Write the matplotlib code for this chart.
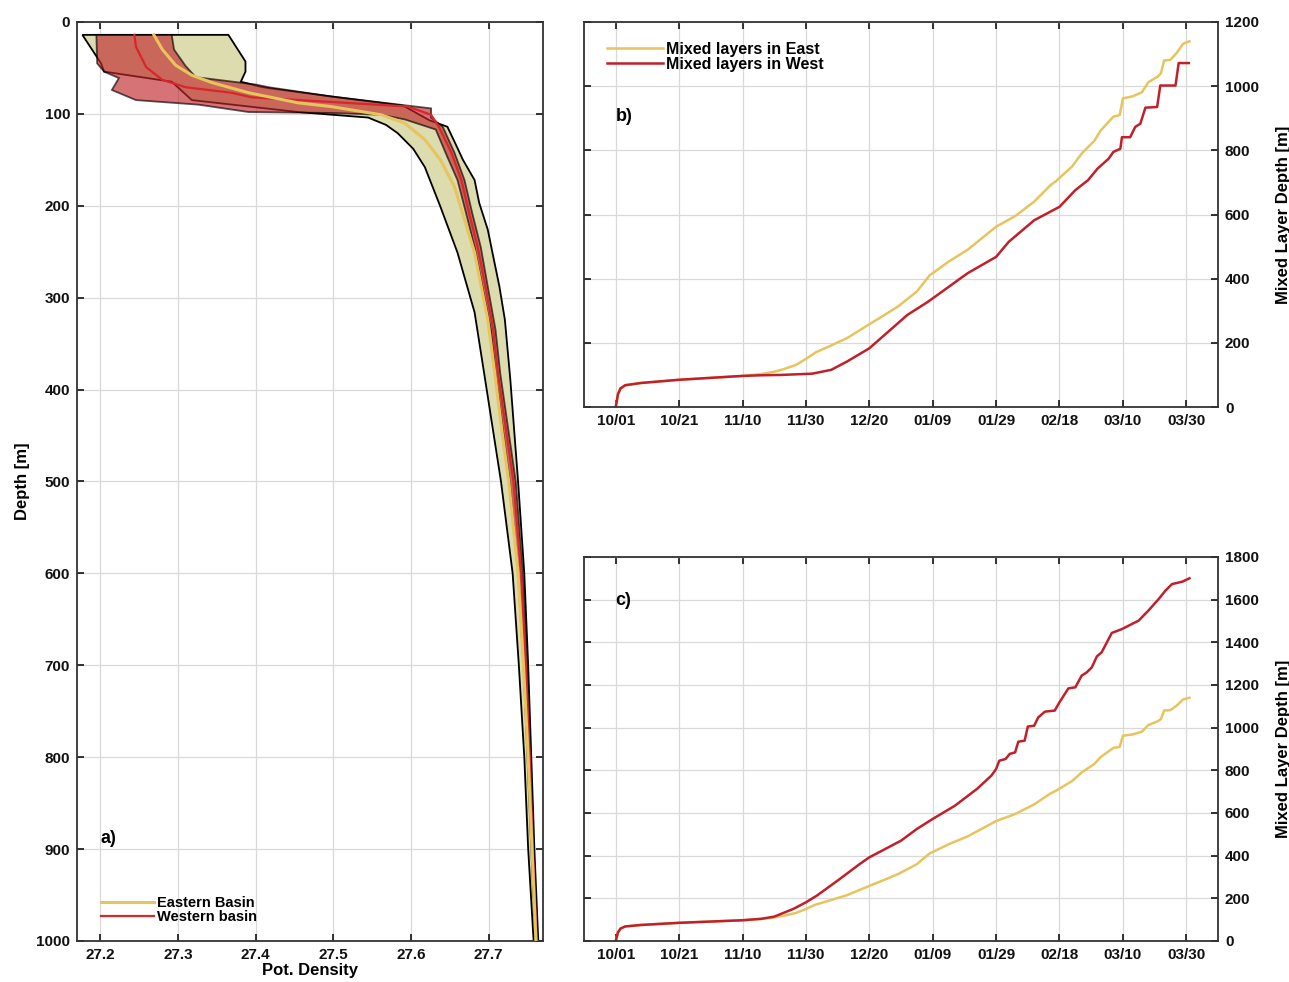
import numpy as np
import matplotlib
matplotlib.use("Agg")
import matplotlib.pyplot as plt

plt.rcParams['font.family'] = ['Liberation Sans', 'DejaVu Sans']
plt.rcParams['font.weight'] = 'bold'

# *** panel a: density profiles (depth in m, potential density) ***
east_mean_z = [14, 30, 47, 58, 66, 77, 88, 92, 101, 110, 128, 150, 179, 201, 251, 324, 382, 450, 500, 600, 700, 800, 900, 1000]
east_mean_s = [27.269, 27.280, 27.297, 27.318, 27.344, 27.391, 27.455, 27.497, 27.562, 27.592, 27.618, 27.638, 27.656,
               27.664, 27.682, 27.699, 27.708, 27.718, 27.726, 27.738, 27.745, 27.751, 27.756, 27.761]
east_min_z = [14, 45, 54, 65, 85, 98, 104, 112, 121, 138, 158, 201, 251, 316, 386, 500, 600, 700, 800, 900, 1000]
east_min_s = [27.177, 27.201, 27.205, 27.292, 27.318, 27.455, 27.545, 27.568, 27.583, 27.603, 27.618, 27.638, 27.660,
              27.682, 27.695, 27.716, 27.731, 27.739, 27.746, 27.751, 27.758]
east_max_z = [14, 43, 54, 65, 70, 72, 81, 91, 107, 114, 130, 150, 172, 197, 226, 251, 288, 324, 389, 500, 600, 700, 800, 900, 1000]
east_max_s = [27.365, 27.387, 27.387, 27.381, 27.404, 27.417, 27.497, 27.590, 27.624, 27.647, 27.656, 27.667, 27.682,
              27.688, 27.699, 27.705, 27.714, 27.721, 27.728, 27.738, 27.746, 27.751, 27.755, 27.759, 27.764]

west_mean_z = [14, 27, 49, 63, 71, 77, 82, 87, 92, 101, 114, 142, 172, 208, 245, 288, 335, 382, 500, 600, 700, 800, 900, 1000]
west_mean_s = [27.244, 27.246, 27.259, 27.280, 27.310, 27.369, 27.395, 27.497, 27.596, 27.626, 27.636, 27.652, 27.665,
               27.675, 27.686, 27.696, 27.706, 27.712, 27.732, 27.742, 27.748, 27.753, 27.757, 27.762]
west_min_z = [14, 45, 54, 61, 74, 85, 90, 98, 99, 101, 106, 117, 147, 172, 208, 245, 288, 335, 382, 500, 600, 700, 800, 900, 1000]
west_min_s = [27.195, 27.196, 27.205, 27.224, 27.215, 27.246, 27.327, 27.391, 27.497, 27.562, 27.592, 27.632, 27.647,
              27.660, 27.671, 27.682, 27.692, 27.703, 27.709, 27.727, 27.738, 27.745, 27.750, 27.755, 27.760]
west_max_z = [14, 30, 48, 60, 68, 71, 81, 91, 94, 104, 114, 142, 172, 208, 245, 288, 335, 382, 500, 600, 700, 800, 900, 1000]
west_max_s = [27.292, 27.295, 27.310, 27.323, 27.400, 27.417, 27.497, 27.596, 27.626, 27.626, 27.641, 27.656, 27.669,
              27.679, 27.690, 27.699, 27.709, 27.715, 27.735, 27.744, 27.750, 27.754, 27.758, 27.762]

# *** panels b, c: mixed layer depth, days since 10/01 ***
east_day = [0, 0.7, 1.5, 3, 8, 20, 30, 40, 46, 50, 53, 57, 60, 63, 68, 73, 80, 84, 89, 95, 97, 99, 105, 111, 120, 126,
            132, 137, 139, 144, 147, 151, 153, 157, 159, 160, 163, 166, 168, 171, 172, 173, 175, 177, 179, 181]
east_mld = [0, 40, 58, 68, 75, 85, 91, 97, 103, 110, 118, 132, 150, 170, 192, 215, 258, 282, 313, 360, 385, 410, 453, 490,
            562, 595, 640, 690, 705, 750, 790, 830, 862, 905, 910, 962, 968, 981, 1012, 1030, 1040, 1080, 1082, 1104, 1132, 1140]

westb_day = [0, 0.7, 1.5, 3, 8, 20, 30, 40, 46, 52, 62, 68, 73, 80, 86, 92, 98.5, 103, 111, 120, 124, 132, 140, 145, 149,
             152, 155.5, 157, 159.2, 159.7, 162.3, 163.9, 165.5, 167.1, 170.8, 171.8, 176.6, 177.6, 180.8]
westb_mld = [0, 40, 58, 68, 75, 85, 91, 97, 99, 100, 104, 116, 142, 183, 235, 287, 328, 360, 417, 468, 515, 582, 624, 676,
             707, 743, 774, 795, 805, 841, 841, 873, 883, 933, 935, 1002, 1002, 1072, 1072]

westc_day = [0, 0.7, 1.5, 3, 8, 20, 30, 40, 46, 50, 56, 60, 63.5, 70, 77, 80, 90, 95, 100, 107, 114, 118.5, 120, 121, 123,
             124.3, 126, 127, 129, 130, 132, 133.3, 135.4, 138.5, 140, 142.8, 145, 147, 148.6, 150.2, 151.8, 153.3, 156.5,
             159.7, 161.8, 165, 168, 171.3, 173.4, 175.5, 178.7, 181]
westc_mld = [0, 40, 58, 68, 75, 85, 91, 97, 104, 114, 150, 181, 213, 283, 361, 392, 470, 525, 572, 634, 713, 775, 806, 845,
             853, 877, 884, 934, 939, 1005, 1009, 1048, 1075, 1080, 1119, 1184, 1189, 1244, 1259, 1283, 1334, 1353, 1444,
             1462, 1478, 1502, 1548, 1603, 1642, 1673, 1684, 1700]

date_ticks = [0, 20, 40, 60, 80, 100, 120, 140, 160, 180]
date_labels = ['10/01', '10/21', '11/10', '11/30', '12/20', '01/09', '01/29', '02/18', '03/10', '03/30']

yellow = '#e6c45e'
red = '#c0202a'
khaki = '#dcdcae'
spine_col = '#333333'


def style_axes(ax):
    ax.grid(True, color='#d9d9d9', lw=0.9)
    ax.set_axisbelow(True)
    ax.tick_params(direction='in', length=5, width=1.2, top=True, right=True,
                   labelsize=11, colors='#111111', pad=5)
    for sp in ax.spines.values():
        sp.set_color(spine_col)
        sp.set_linewidth(1.3)


fig = plt.figure(figsize=(12.89, 9.82), dpi=100)
ax_a = fig.add_axes([0.0597, 0.0418, 0.3615, 0.9358])
ax_b = fig.add_axes([0.4531, 0.5855, 0.4918, 0.3921])
ax_c = fig.add_axes([0.4531, 0.0418, 0.4918, 0.391])

# panel a
ax_a.fill(east_min_s + east_max_s[::-1], east_min_z + east_max_z[::-1],
          facecolor=khaki, edgecolor='black', lw=1.3, zorder=2)
ax_a.fill(west_min_s + west_max_s[::-1], west_min_z + west_max_z[::-1],
          facecolor='#c0282d', alpha=0.65, edgecolor='black', lw=1.3, zorder=3)
ax_a.plot(west_mean_s, west_mean_z, color='#d8262a', lw=1.6, zorder=4, label='Western basin')
ax_a.plot(east_mean_s, east_mean_z, color=yellow, lw=2.2, zorder=5, label='Eastern Basin')
ax_a.set_xlim(27.17, 27.77)
ax_a.set_ylim(1000, 0)
ax_a.set_xticks(np.arange(27.2, 27.71, 0.1))
ax_a.set_yticks(np.arange(0, 1001, 100))
style_axes(ax_a)
ax_a.set_xlabel('Pot. Density', fontsize=12, fontweight='bold', labelpad=1)
ax_a.set_ylabel('Depth [m]', fontsize=12, fontweight='bold', labelpad=4)
h, l = ax_a.get_legend_handles_labels()
ax_a.legend(h[::-1], l[::-1], loc='lower left', bbox_to_anchor=(0.04, 0.012), frameon=False,
            handlelength=3.6, handletextpad=0.2, labelspacing=0.0, borderaxespad=0,
            prop={'weight': 'bold', 'size': 10.5})
ax_a.text(27.2, 889, 'a)', fontsize=13, fontweight='bold', va='center', ha='left')

# panels b and c
for ax, west_day, west_mld, ymax, tag, tag_y in [
        (ax_b, westb_day, westb_mld, 1200, 'b)', 906),
        (ax_c, westc_day, westc_mld, 1800, 'c)', 1598)]:
    ax.plot(east_day, east_mld, color=yellow, lw=1.8, label='Mixed layers in East')
    ax.plot(west_day, west_mld, color=red, lw=1.8, label='Mixed layers in West')
    ax.set_xlim(-10, 190)
    ax.set_ylim(0, ymax)
    ax.set_xticks(date_ticks)
    ax.set_xticklabels(date_labels)
    ax.set_yticks(np.arange(0, ymax + 1, 200))
    style_axes(ax)
    ax.tick_params(labelleft=False, labelright=True)
    ax.yaxis.set_label_position('right')
    ax.set_ylabel('Mixed Layer Depth [m]', fontsize=12, fontweight='bold', labelpad=12)
    ax.text(0, tag_y, tag, fontsize=13, fontweight='bold', va='center', ha='left')

ax_b.legend(loc='upper left', bbox_to_anchor=(0.026, 0.965), frameon=False,
            handlelength=3.5, handletextpad=0.2, labelspacing=0.0, borderaxespad=0,
            prop={'weight': 'bold', 'size': 11.5})

fig.savefig('out.png', dpi=100)
